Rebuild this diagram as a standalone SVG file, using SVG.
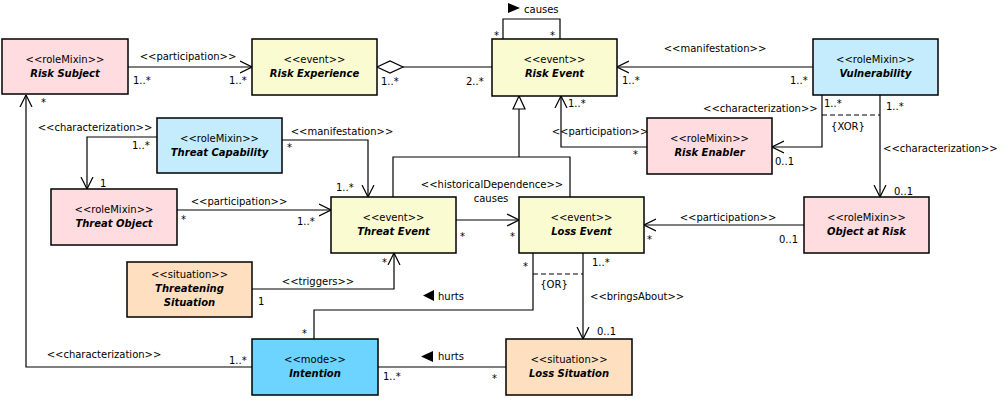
<svg xmlns="http://www.w3.org/2000/svg" width="1008" height="402" viewBox="0 0 1008 402">
<style>
text{font-family:"DejaVu Sans",Verdana,sans-serif;font-size:10px;fill:#000}
.st{text-anchor:middle}
.nm{text-anchor:middle;font-weight:bold;font-style:italic}
.c{text-anchor:middle}
.box{stroke:#000;stroke-width:1.5}
.pink{fill:#FFDCE0}
.yel{fill:#FBFBD2}
.lblue{fill:#C4ECFC}
.blue{fill:#6CD4FE}
.org{fill:#FEDFC0}
.ln{fill:none;stroke:#000;stroke-width:1.2}
.dash{fill:none;stroke:#000;stroke-width:1;stroke-dasharray:5,3}
</style>
<defs>
<marker id="open" viewBox="0 0 12 14" refX="12" refY="7" markerWidth="12" markerHeight="14" markerUnits="userSpaceOnUse" orient="auto">
<path d="M0,1 L12,7 L0,13" fill="none" stroke="#000" stroke-width="1.2"/>
</marker>
</defs>

<g id="connectors">
<!-- Risk Subject -> Risk Experience -->
<line class="ln" x1="128" y1="67" x2="252" y2="67" marker-end="url(#open)"/>
<text class="c" x="188" y="60">&lt;&lt;participation&gt;&gt;</text>
<text x="133" y="84">1..*</text>
<text x="229" y="84">1..*</text>
<!-- Risk Experience <>- Risk Event -->
<polygon points="377,67 390,61 403,67 390,73" fill="#fff" stroke="#000" stroke-width="1.2"/>
<line class="ln" x1="403" y1="67" x2="492" y2="67"/>
<text x="381" y="85">1..*</text>
<text x="466" y="85">2..*</text>
<!-- self loop causes -->
<polyline class="ln" points="503,39 503,19 560,19 560,39"/>
<polygon points="508,3 520,8 508,13" fill="#000"/>
<text x="524" y="13">causes</text>
<text x="494" y="39">*</text>
<text x="550" y="39">*</text>
<!-- Vulnerability -> Risk Event -->
<line class="ln" x1="813" y1="67" x2="617" y2="67" marker-end="url(#open)"/>
<text class="c" x="715" y="52">&lt;&lt;manifestation&gt;&gt;</text>
<text x="622" y="84">1..*</text>
<text x="790" y="84">1..*</text>
<!-- Risk Enabler -> Risk Event -->
<polyline class="ln" points="647,147 561,147 561,96" marker-end="url(#open)"/>
<text class="c" x="600" y="135">&lt;&lt;participation&gt;&gt;</text>
<text x="568" y="107">1..*</text>
<text x="633" y="158">*</text>
<!-- Vulnerability -> Risk Enabler -->
<polyline class="ln" points="822,95 822,147 772,147" marker-end="url(#open)"/>
<text x="703" y="112">&lt;&lt;characterization&gt;&gt;</text>
<text x="824" y="107">1..*</text>
<text x="775" y="165">0..1</text>
<!-- Vulnerability -> Object at Risk -->
<line class="ln" x1="880" y1="95" x2="880" y2="197" marker-end="url(#open)"/>
<text x="886" y="110">1..*</text>
<text x="883" y="152">&lt;&lt;characterization&gt;&gt;</text>
<text x="894" y="195">0..1</text>
<line class="dash" x1="822" y1="115" x2="880" y2="115"/>
<text class="c" x="848" y="130">{XOR}</text>
<!-- generalization -->
<polygon points="519,96 513,109 525,109" fill="#fff" stroke="#000" stroke-width="1.2"/>
<polyline class="ln" points="519,109 519,157"/>
<polyline class="ln" points="393,197 393,157 570,157 570,197"/>
<!-- Threat Event -> Loss Event -->
<line class="ln" x1="456" y1="220" x2="519" y2="220" marker-end="url(#open)"/>
<text class="c" x="492" y="188">&lt;&lt;historicalDependence&gt;&gt;</text>
<text class="c" x="491" y="202">causes</text>
<text x="460" y="240">*</text>
<text x="510" y="240">*</text>
<!-- Threat Capability -> Threat Event -->
<polyline class="ln" points="282,140 368,140 368,197" marker-end="url(#open)"/>
<text class="c" x="342" y="135">&lt;&lt;manifestation&gt;&gt;</text>
<text x="287" y="151">*</text>
<text x="336" y="191">1..*</text>
<!-- Threat Capability -> Threat Object -->
<polyline class="ln" points="157,137 87,137 87,189" marker-end="url(#open)"/>
<text class="c" x="95" y="131">&lt;&lt;characterization&gt;&gt;</text>
<text x="132" y="149">1..*</text>
<text x="100" y="187">1</text>
<!-- Threat Object -> Threat Event -->
<line class="ln" x1="177" y1="210" x2="331" y2="210" marker-end="url(#open)"/>
<text class="c" x="239" y="205">&lt;&lt;participation&gt;&gt;</text>
<text x="181" y="223">*</text>
<text x="297" y="225">1..*</text>
<!-- Object at Risk -> Loss Event -->
<line class="ln" x1="804" y1="225" x2="644" y2="225" marker-end="url(#open)"/>
<text class="c" x="728" y="221">&lt;&lt;participation&gt;&gt;</text>
<text x="647" y="243">*</text>
<text x="779" y="243">0..1</text>
<!-- Threatening Situation -> Threat Event -->
<polyline class="ln" points="252,289 394,289 394,253" marker-end="url(#open)"/>
<text class="c" x="318" y="285">&lt;&lt;triggers&gt;&gt;</text>
<text x="258" y="305">1</text>
<text x="382" y="266">*</text>
<!-- Intention - Loss Event hurts -->
<polyline class="ln" points="314,339 314,310 533,310 533,253"/>
<polygon points="434,290 423,295.5 434,301" fill="#000"/>
<text x="438" y="300">hurts</text>
<text x="302" y="337">*</text>
<text x="523" y="270">*</text>
<!-- Loss Event -> Loss Situation -->
<line class="ln" x1="583" y1="253" x2="583" y2="339" marker-end="url(#open)"/>
<text x="592" y="266">1..*</text>
<text x="590" y="300">&lt;&lt;bringsAbout&gt;&gt;</text>
<text x="597" y="335">0..1</text>
<line class="dash" x1="533" y1="274" x2="583" y2="274"/>
<text class="c" x="554" y="288">{OR}</text>
<!-- Intention - Loss Situation hurts -->
<line class="ln" x1="378" y1="367" x2="506" y2="367"/>
<polygon points="433,351 421,356.5 433,362" fill="#000"/>
<text x="438" y="360">hurts</text>
<text x="383" y="380">1..*</text>
<text x="492" y="382">*</text>
<!-- Intention -> Risk Subject -->
<polyline class="ln" points="252,367 26,367 26,95" marker-end="url(#open)"/>
<text class="c" x="104" y="358">&lt;&lt;characterization&gt;&gt;</text>
<text x="229" y="364">1..*</text>
<text x="41" y="106">*</text>
</g>

<g id="risk-subject"><rect class="box pink" x="2" y="39" width="126" height="55"/><text class="st" x="65" y="63">&lt;&lt;roleMixin&gt;&gt;</text><text class="nm" x="65" y="77">Risk Subject</text></g>
<g id="risk-experience"><rect class="box yel" x="252" y="39" width="125" height="56"/><text class="st" x="314.5" y="63">&lt;&lt;event&gt;&gt;</text><text class="nm" x="314.5" y="77">Risk Experience</text></g>
<g id="risk-event"><rect class="box yel" x="492" y="39" width="125" height="57"/><text class="st" x="554.5" y="63">&lt;&lt;event&gt;&gt;</text><text class="nm" x="554.5" y="77">Risk Event</text></g>
<g id="vulnerability"><rect class="box lblue" x="813" y="39" width="125" height="56"/><text class="st" x="875.5" y="63">&lt;&lt;roleMixin&gt;&gt;</text><text class="nm" x="875.5" y="77">Vulnerability</text></g>
<g id="risk-enabler"><rect class="box pink" x="647" y="118" width="125" height="56"/><text class="st" x="709.5" y="142">&lt;&lt;roleMixin&gt;&gt;</text><text class="nm" x="709.5" y="156">Risk Enabler</text></g>
<g id="threat-capability"><rect class="box lblue" x="157" y="118" width="125" height="55"/><text class="st" x="219.5" y="142">&lt;&lt;roleMixin&gt;&gt;</text><text class="nm" x="219.5" y="156">Threat Capability</text></g>
<g id="threat-object"><rect class="box pink" x="51" y="189" width="126" height="56"/><text class="st" x="114" y="213">&lt;&lt;roleMixin&gt;&gt;</text><text class="nm" x="114" y="227">Threat Object</text></g>
<g id="threat-event"><rect class="box yel" x="331" y="197" width="125" height="56"/><text class="st" x="393.5" y="221">&lt;&lt;event&gt;&gt;</text><text class="nm" x="393.5" y="235">Threat Event</text></g>
<g id="loss-event"><rect class="box yel" x="519" y="197" width="125" height="56"/><text class="st" x="581.5" y="221">&lt;&lt;event&gt;&gt;</text><text class="nm" x="581.5" y="235">Loss Event</text></g>
<g id="object-at-risk"><rect class="box pink" x="804" y="197" width="125" height="56"/><text class="st" x="866.5" y="221">&lt;&lt;roleMixin&gt;&gt;</text><text class="nm" x="866.5" y="235">Object at Risk</text></g>
<g id="threatening-situation"><rect class="box org" x="127" y="262" width="125" height="55"/><text class="st" x="189.5" y="278">&lt;&lt;situation&gt;&gt;</text><text class="nm" x="189.5" y="292">Threatening</text><text class="nm" x="189.5" y="306">Situation</text></g>
<g id="intention"><rect class="box blue" x="252" y="339" width="126" height="56"/><text class="st" x="315" y="363">&lt;&lt;mode&gt;&gt;</text><text class="nm" x="315" y="377">Intention</text></g>
<g id="loss-situation"><rect class="box org" x="506" y="339" width="126" height="56"/><text class="st" x="569" y="363">&lt;&lt;situation&gt;&gt;</text><text class="nm" x="569" y="377">Loss Situation</text></g>
</svg>
